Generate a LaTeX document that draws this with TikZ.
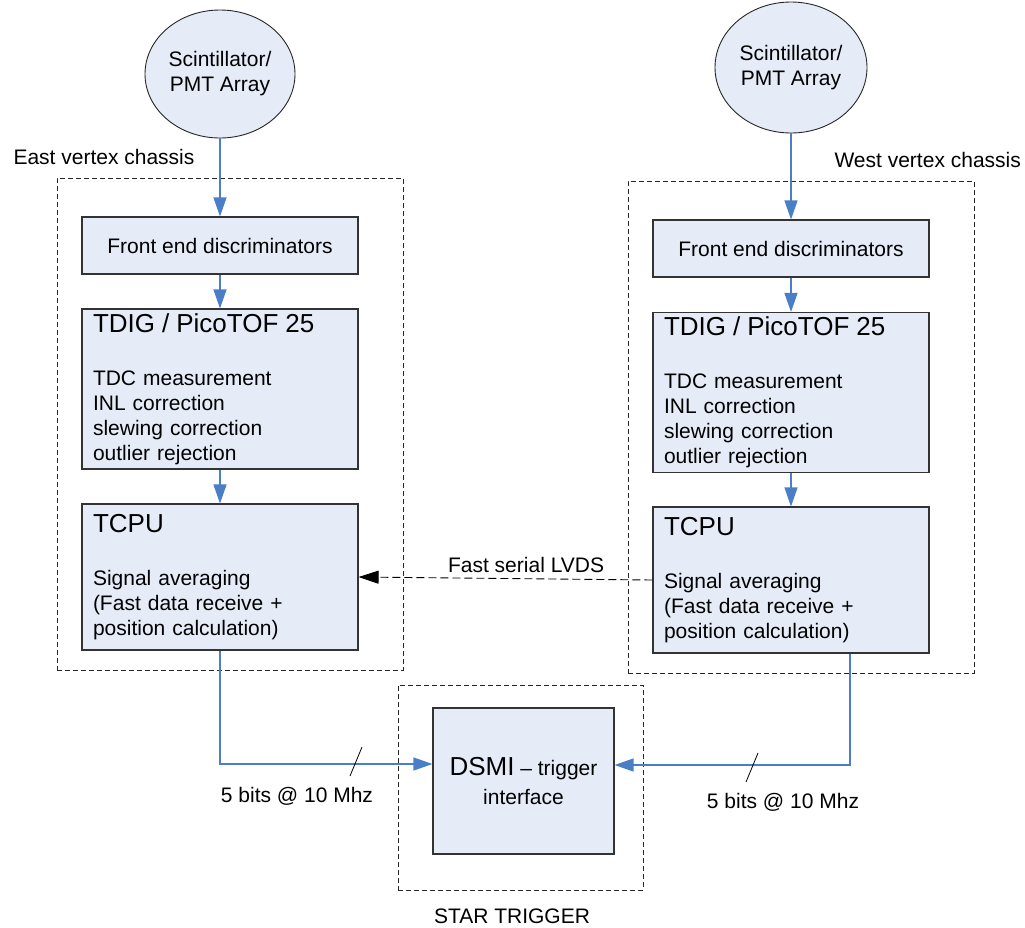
\documentclass[tikz,border=0pt]{standalone}
\usepackage{fontspec}
\setmainfont{Liberation Sans}
\usetikzlibrary{arrows.meta,shapes.geometric}

\definecolor{boxfill}{RGB}{230,236,247}
\definecolor{linkblue}{RGB}{74,126,198}
\newcommand{\hdfont}{\fontsize{26}{30}\selectfont}

\begin{document}
\begin{tikzpicture}[x=1pt, y=-1pt, font=\fontsize{21}{25}\selectfont,
  block/.style={draw=black!80, line width=1.1pt, fill=boxfill, rectangle, inner sep=0pt},
  textblock/.style={block, align=left, text width=254pt, inner xsep=11pt, inner ysep=0pt, minimum height=#1},
  source/.style={draw=black!85, line width=0.9pt, fill=boxfill, ellipse, inner sep=0pt, align=center},
  chassis/.style={draw=black!85, line width=0.9pt, dash pattern=on 5pt off 3pt, rectangle, inner sep=0pt},
  link/.style={draw=linkblue, line width=1.2pt, -{Triangle[length=19pt, width=13pt]}},
  lvds/.style={draw=black, line width=0.9pt, dash pattern=on 8pt off 4pt, -{Triangle[length=20pt, width=13pt]}},
  busmark/.style={draw=black, line width=0.8pt}]

  \useasboundingbox (0,0) rectangle (1025,927);

  % chassis outlines
  \node[chassis, minimum width=346pt, minimum height=492pt] (chassisE) at (230,424) {};
  \node[chassis, minimum width=346pt, minimum height=492pt] (chassisW) at (801,427) {};
  \node[chassis, minimum width=245pt, minimum height=205pt] (chassisStar) at (520.5,787.5) {};

  \node[anchor=west] (labelE) at (10,157) {East vertex chassis};
  \node[anchor=west] (labelW) at (831,160) {West vertex chassis};
  \node (labelStar) at (512,916) {STAR TRIGGER};

  % east side
  \node[source, minimum width=150pt, minimum height=128pt] (pmtE) at (220,74) {Scintillator/\\PMT Array};
  \node[block, minimum width=276pt, minimum height=57pt] (feE) at (220,245.5) {Front end discriminators};
  \node[textblock=160pt] (tdigE) at (220,389)
    {{\hdfont TDIG / PicoTOF 25}\\[28pt]TDC measurement\\INL correction\\slewing correction\\outlier rejection};
  \node[textblock=146pt] (tcpuE) at (220,577)
    {{\hdfont TCPU}\\[28pt]Signal averaging\\(Fast data receive +\\position calculation)};

  % west side
  \node[source, minimum width=152pt, minimum height=131pt] (pmtW) at (791,67.5) {Scintillator/\\PMT Array};
  \node[block, minimum width=276pt, minimum height=57pt] (feW) at (791,248.5) {Front end discriminators};
  \node[textblock=160pt] (tdigW) at (791,392.5)
    {{\hdfont TDIG / PicoTOF 25}\\[28pt]TDC measurement\\INL correction\\slewing correction\\outlier rejection};
  \node[textblock=146pt] (tcpuW) at (791,580)
    {{\hdfont TCPU}\\[28pt]Signal averaging\\(Fast data receive +\\position calculation)};

  % trigger
  \node[block, align=center, minimum width=181pt, minimum height=146pt] (dsmi) at (523.5,781)
    {{\hdfont DSMI} -- trigger\\[4pt]interface};

  \draw[link] (pmtE) -- (feE);
  \draw[link] (feE) -- (tdigE);
  \draw[link] (tdigE) -- (tcpuE);
  \draw[link] (pmtW) -- (feW);
  \draw[link] (feW) -- (tdigW);
  \draw[link] (tdigW) -- (tcpuW);

  \draw[lvds] (tcpuW.west) -- (tcpuE.east)
    node[pos=0.43, above, yshift=2pt] (lvdsLabel) {Fast serial LVDS};

  \draw[link] (tcpuE.south) |- ([yshift=17pt]dsmi.west);
  \draw[link] ([xshift=59pt]tcpuW.south) |- ([yshift=16pt]dsmi.east);

  \draw[busmark] (350,776) -- (362,747);
  \draw[busmark] (746,782) -- (758,753);
  \node (bitsE) at (297,796) {5 bits @ 10 Mhz};
  \node (bitsW) at (783,802) {5 bits @ 10 Mhz};

\end{tikzpicture}
\end{document}
